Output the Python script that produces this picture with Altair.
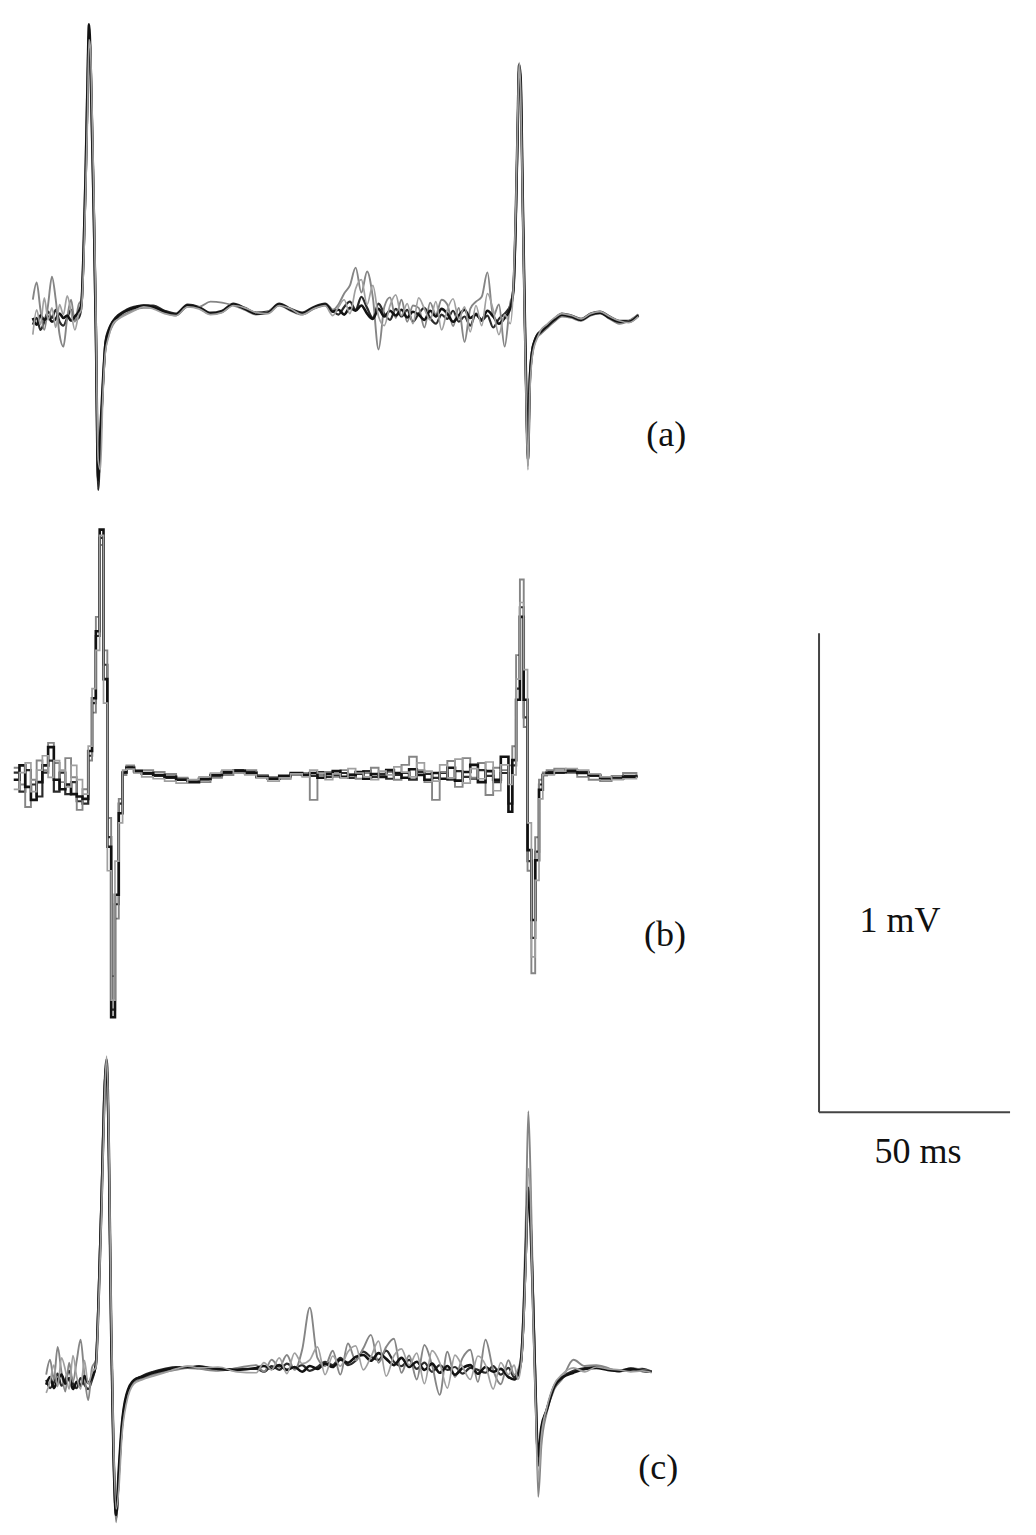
import altair as alt
import pandas as pd

# ---------------- time grids (ms) ----------------
t_a = [6.5, 7.5, 8.5, 9.5, 10.5, 11.5, 12.5, 13.5, 14.5, 15.5, 16.5, 17.5, 18.5,
       19.2, 19.8, 20.3, 20.8, 21.2, 21.6, 22.0, 22.5, 23.0, 23.6, 24.2, 24.8, 25.5, 26.3,
       27.5, 29, 31, 33, 35.5,
       38, 41, 44, 47, 50, 53, 56, 59, 62, 65, 68, 71, 74, 77, 80, 83,
       85, 86.5, 88, 89.5, 91, 92.5, 94, 95.5, 97, 98.5, 100, 101.5, 103, 104.5, 106, 107.5,
       109, 110.5, 112, 113.5, 115, 116.5, 118, 119.5, 121, 122.5, 124, 125.5, 127, 128.5, 130, 131.5,
       132.3, 132.9, 133.4, 133.8, 134.2, 134.7, 135.2, 135.7, 136.1, 136.6, 137.2, 137.8, 138.5,
       139.5, 141, 143, 145, 147.5, 150, 152.5, 155, 157.5, 160, 162.5, 165]

t_b = [1.5, 3, 4.5, 6, 7.5, 9, 10.5, 12, 13.5, 15, 16.5, 18, 19.5, 21,
       22, 23, 24, 25, 26, 27, 28, 29, 30,
       31, 33, 35, 38, 41, 44, 47, 50, 53, 56, 59, 62, 65, 68, 71, 74, 77,
       79, 81, 83, 85, 87, 89, 91, 93, 95, 97, 99, 101, 103, 105, 107, 109, 111, 113, 115, 117,
       119, 121, 123, 125, 127, 129,
       131, 132, 133, 134, 135, 136, 137, 138, 139, 140,
       141, 143, 146, 149, 152, 155, 158, 161, 164.5]

t_c = [10, 11, 12, 13, 14, 15, 16, 17, 18, 19, 20, 21, 22,
       23, 23.8, 24.5, 25.2, 25.8, 26.4, 27.0, 27.6, 28.3, 29.0, 29.8, 31, 33,
       35, 38, 41, 44, 47, 50, 55, 60,
       65, 67, 69, 71, 73, 75, 77, 79, 81, 83, 85, 87, 89, 91, 93, 95, 97, 99, 101, 103,
       105, 107, 109, 111, 113, 115, 117, 119, 121, 123, 125, 127, 129, 131,
       132.5, 133.5, 134.3, 135, 135.6, 136.2, 136.8, 137.4, 138, 138.8, 139.6, 141, 143,
       145, 148, 151, 154, 157, 160, 163, 166, 168.5]

# ---------------- voltages (µV, relative to each panel's baseline) ----------------
a1 = [-13, -27, -8, -17, -10, -21, -15, -4, -13, -8, -19, -10, 0,
      15, 130, 276, 464, 600, 527, 380, 192, -38, -351, -247, -153, -69, -42,
      -21, -8, 2, 8, 13,
      10, 0, -6, 13, 8, -4, 0, 15, 6, -4, -2, 15, 4, -4, 8, 15,
      0, 4, -6, 8, 2, 13, -4, -15, 6, -10, 2, -8, 4, -12, 0, -6, -17, 2, -10, 6,
      -4, -21, -8, 4, -13, -6, -17, 2, -10, -25, -13, 8,
      46, 192, 380, 516, 485, 255, 25, -184, -309, -142, -84, -63, -50,
      -42, -31, -17, -6, -10, -17, -6, -2, -13, -21, -21, -8]
a2 = [25, 61, 4, -38, 15, 73, 25, -48, -73, -13, 25, -21, 15,
      25, 150, 318, 506, 589, 485, 339, 150, -79, -330, -278, -173, -79, -50,
      -27, -13, -4, 4, 8,
      8, -2, -8, 10, 10, 21, 19, 13, 4, -6, 0, 13, 2, -6, 6, 13,
      4, 15, 38, 55, 92, 40, 84, 30, -79, 10, 30, -13, 25, -21, 13, 8, -33, 19, -6, 25,
      15, -30, 8, -63, 6, 21, 31, 82, -10, 15, -73, 20,
      40, 170, 360, 505, 470, 240, 10, -200, -322, -155, -92, -67, -54,
      -46, -35, -21, -10, -13, -19, -8, -4, -15, -25, -19, -6]
a3 = [-48, 4, -27, 29, -17, 8, -33, 15, -6, 33, 0, -38, -6,
      4, 98, 234, 401, 568, 548, 422, 234, 4, -309, -330, -184, -84, -54,
      -25, -15, -6, 2, 10,
      6, -4, -8, 10, 6, -6, -2, 13, 8, -2, -4, 13, 6, -6, 6, 13,
      -8, 10, 25, -4, 48, 67, 15, 55, -10, -29, 13, 35, -8, 17, -25, 29, 6, -17, 21, -38,
      4, 27, -15, 10, -42, 13, -29, 38, 4, -48, -6, -25,
      55, 205, 395, 520, 460, 230, 0, -215, -330, -170, -96, -71, -56,
      -38, -27, -13, -4, -8, -15, -4, 0, -10, -19, -23, -10]
a4 = [-27, -13, -38, -21, 0, -13, 4, -21, -29, -13, 4, -17, -13,
      8, 119, 255, 443, 579, 537, 390, 203, -17, -372, -268, -163, -63, -38,
      -19, -6, 4, 10, 13,
      13, 2, -4, 15, 10, -2, 2, 17, 8, -2, 0, 17, 6, -2, 10, 17,
      2, -6, 10, 21, 4, 31, 8, -13, 17, -4, -17, 6, -10, 4, -21, -4, 8, -13, -25, -6,
      -15, 2, -21, -10, -29, -4, -19, -8, -33, -15, -4, 13,
      50, 185, 370, 510, 480, 250, 20, -190, -300, -136, -80, -61, -48,
      -40, -29, -15, -4, -8, -15, -4, 0, -10, -19, -19, -6]

b1 = [-10, 20, -25, -52, -15, 20, 58, -10, -30, -20, -40, -45, -50, 50,
      160, 300, 512, 200, -150, -506, -250, -80, 5,
      15, 8, 4, 0, -4, -10, -15, -8, 0, 6, 8, 4, -4, -8, -2, 4, 0,
      4, -6, 2, 8, -4, 0, 6, -8, 2, -4, 10, 4, -6, 12, 0, -10, 4, -8, 15, -12,
      6, 21, -15, 8, -10, 38,
      -77, 31, 157, 330, 157, -157, -303, -178, -31, 0,
      4, 6, 8, 4, 0, -6, -8, -4, -6]
b2 = [15, -20, -67, -10, 30, 10, 67, 25, -15, 35, -5, -73, -30, 30,
      130, 330, 480, 260, -90, -420, -300, -50, 0,
      20, 10, 10, 6, 2, -6, -13, -15, -6, 0, 4, 10, 0, -4, -8, 0, 4,
      -52, 0, 6, -4, 10, 2, -8, 4, 15, -2, 6, -10, 21, 38, 10, -15, -52, 6, 29, -25,
      35, -6, 25, -42, 15, 10,
      20, 60, 250, 408, 100, -200, -414, -130, -10, 5,
      10, 13, 4, -4, -10, -13, -2, 4, 0]
b3 = [-30, 5, 25, -35, 10, 40, -5, 30, 10, -25, 20, -10, -40, 60,
      180, 260, 500, 150, -200, -470, -180, -100, 10,
      12, 4, -4, -8, -13, -17, -10, -4, 4, 10, 4, 0, -6, -13, -6, 2, -4,
      10, 4, -10, 2, -6, 13, 4, -4, -10, 8, 0, 17, 6, -4, 25, 8, -13, 21, -6, 33,
      -17, 13, -8, 27, -33, 21,
      -20, 0, 200, 360, 220, -100, -380, -220, -50, 0,
      0, 8, 13, 10, 2, -4, -10, -8, -4]
b4 = [5, -35, 10, -20, -45, 5, 30, -35, 5, -40, -15, -55, -60, 40,
      150, 290, 495, 230, -130, -490, -270, -60, 5,
      17, 6, 2, -2, -6, -8, -13, -10, -2, 4, 10, 6, -2, -6, -4, 2, 2,
      -2, 6, -4, 0, 4, -6, 2, 8, -4, 2, -8, 0, 4, -10, 6, 2, -6, 4, -10, 8,
      -4, -8, 10, -2, -15, 4,
      -60, 20, 180, 350, 120, -180, -340, -160, -20, 0,
      6, 4, 10, 6, -2, -8, -6, -2, -4]

c1 = [-31, -15, -38, -21, -10, -29, -17, -40, -25, -33, -13, -27, -15,
      10, 167, 355, 564, 648, 460, 84, -167, -303, -209, -115, -52, -21,
      -15, -6, 0, 4, 6, 6, 2, 0,
      4, 8, 2, 10, 0, 6, -4, 8, 2, 13, 6, 21, 15, 27, 31, 19, 35, 23, 10, 25,
      6, 17, 0, 13, -6, 8, -10, 4, 10, -8, 6, -4, 2, -15,
      -20, -10, 20, 120, 260, 380, 300, 150, -20, -180, -120, -84, -35,
      -17, -6, 2, 4, 0, -2, 2, -2, -4]
c2 = [-10, 21, -20, 48, -5, -45, 15, -25, 20, 63, -10, -63, 5,
      20, 190, 380, 590, 630, 430, 60, -190, -318, -230, -130, -60, -25,
      -19, -10, -4, 0, 4, 2, -2, 4,
      10, -4, 21, 6, 31, 0, 42, 130, 25, 8, 40, -10, 55, 20, 45, 73, 15, 48, 65, -6,
      30, -20, 52, 10, -52, 38, -15, 25, 42, -25, 63, 0, -30, 20,
      -10, 0, 30, 150, 330, 540, 400, 180, 10, -265, -160, -90, -40,
      -20, 21, 8, 10, 4, -4, 4, 0, -2]
c3 = [-48, -25, 10, -35, 25, 0, -40, 30, -15, -40, 20, -30, -5,
      5, 150, 330, 540, 655, 490, 120, -140, -290, -250, -140, -70, -29,
      -21, -13, -6, 2, 8, 4, 6, -4,
      -6, 15, 0, 25, -8, 35, 13, 21, 48, -10, 29, 8, 38, 50, 0, 27, 60, -13, 29, 44,
      10, 35, -29, 40, 15, -38, 31, 6, -20, 29, 10, -40, 15, -10,
      10, -20, 10, 100, 230, 420, 350, 120, -40, -230, -140, -80, -30,
      -10, 4, -4, 6, 2, 0, -4, -2, -6]
c4 = [-21, -38, -27, -8, -33, -21, -2, -29, -38, -17, -31, -40, -21,
      12, 175, 365, 575, 640, 450, 90, -160, -310, -220, -120, -55, -23,
      -13, -4, 2, 6, 4, 8, 0, 2,
      2, -4, 8, 0, 13, 4, 10, -2, 6, 17, 10, 25, 10, 19, 38, 27, 21, 40, 17, 8,
      21, 2, 15, -4, 10, 0, 6, -8, 4, 0, -6, 8, -10, 4,
      -15, -5, 15, 110, 250, 360, 320, 160, -10, -200, -125, -84, -33,
      -15, -2, 4, 6, 2, -2, 0, 2, -4]

# vertical position of each panel's baseline (µV on the common axis)
panel_names = ["a", "b", "c"]
panel_offsets = [2537, 1570, 328]
panel_labels = ["(a)", "(b)", "(c)"]
label_t = [172.3, 172.0, 170.2]
label_v = [-257, -334, -205]

# scale bar: origin (ms, µV) and lengths
bar_t0, bar_v0 = 212.3, 866
bar_len_t, bar_len_v = 50, 1000
bar_texts = ["1 mV", "50 ms"]
bar_text_t = [233.5, 238.2]
bar_text_v = [1265, 783]

# trace styles: (colour, width)
styles = {
    "1": ("#121212", 2.6),
    "2": ("#858585", 1.9),
    "3": ("#a0a0a0", 1.7),
    "4": ("#2b2b2b", 2.2),
}
draw_order = ["4", "2", "1", "3"]

panels = {
    "a": (t_a, {"1": a1, "2": a2, "3": a3, "4": a4}, "monotone"),
    "b": (t_b, {"1": b1, "2": b2, "3": b3, "4": b4}, "step-after"),
    "c": (t_c, {"1": c1, "2": c2, "3": c3, "4": c4}, "monotone"),
}

X_DOMAIN = [0, 267.0]
Y_DOMAIN = [0, 3171]
xs = alt.Scale(domain=X_DOMAIN, nice=False, zero=False)
ys = alt.Scale(domain=Y_DOMAIN, nice=False, zero=False)

layers = []
for pname, off in zip(panel_names, panel_offsets):
    t, traces, interp = panels[pname]
    for key in draw_order:
        vals = traces[key]
        assert len(vals) == len(t), (pname, key, len(vals), len(t))
        df = pd.DataFrame({"t": t, "v": [v + off for v in vals], "i": list(range(len(t)))})
        col, w = styles[key]
        layers.append(
            alt.Chart(df).mark_line(color=col, strokeWidth=w, interpolate=interp, strokeJoin="miter")
            .encode(x=alt.X("t:Q", scale=xs, axis=None),
                    y=alt.Y("v:Q", scale=ys, axis=None),
                    order="i:Q")
        )

lab_df = pd.DataFrame({
    "txt": panel_labels + bar_texts,
    "t": label_t + bar_text_t,
    "v": [o + v for o, v in zip(panel_offsets, label_v)] + bar_text_v,
})
layers.append(
    alt.Chart(lab_df).mark_text(font="Liberation Serif", fontSize=36, color="#111111",
                                align="center", baseline="middle")
    .encode(x=alt.X("t:Q", scale=xs, axis=None), y=alt.Y("v:Q", scale=ys, axis=None), text="txt:N")
)

bar_df = pd.DataFrame({
    "t": [bar_t0, bar_t0],
    "v": [bar_v0, bar_v0],
    "t2": [bar_t0, bar_t0 + bar_len_t],
    "v2": [bar_v0 + bar_len_v, bar_v0],
})
layers.append(
    alt.Chart(bar_df).mark_rule(color="#444444", strokeWidth=2)
    .encode(x=alt.X("t:Q", scale=xs, axis=None), y=alt.Y("v:Q", scale=ys, axis=None),
            x2="t2:Q", y2="v2:Q")
)

chart = alt.layer(*layers).properties(
    width=1020, height=1519, padding=0,
    autosize=alt.AutoSizeParams(type="none"),
).configure_view(strokeWidth=0)

chart.save("out.html", embed_options={"renderer": "svg", "actions": False})
